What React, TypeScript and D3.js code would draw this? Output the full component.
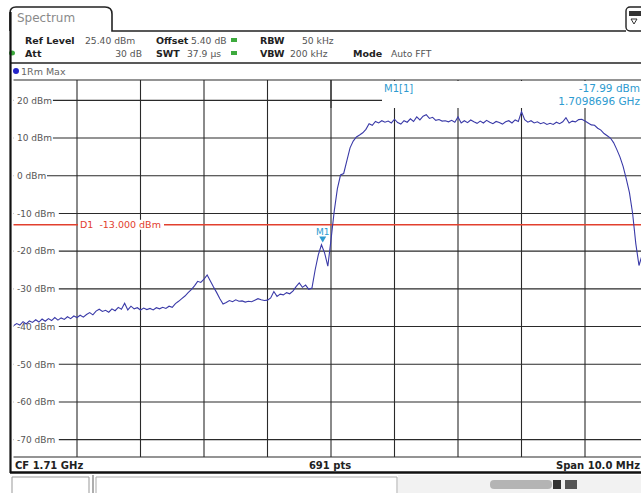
import React from "react";
import * as d3 from "d3";

// ---- data ----
const spanMHz = 10;
const stepMHz = 0.05; // trace sample step
const yTicks = [20, 10, 0, -10, -20, -30, -40, -50, -60, -70];
const xGrid = [1, 2, 3, 4, 5, 6, 7, 8, 9];
const refLevel = 25.4;
const bottomLevel = -74.6;
const d1Level = -13;
const markerFreqMHz = 4.8696;
const markerLevel = -17.99;

const traceLevels = [
  -39.8, -39.2, -39.6, -38.7, -39.3, -38.5, -38.9, -38.2, -38.8, -38.0,
  -38.6, -37.9, -38.4, -37.6, -38.3, -37.7, -38.1, -37.4, -37.9, -37.2,
  -37.6, -37.0, -37.5, -36.8, -36.3, -36.9, -35.9, -35.4, -36.0, -35.7,
  -36.2, -35.3, -35.8, -34.9, -35.4, -33.8, -35.6, -34.6, -35.3, -35.0,
  -35.6, -35.1, -35.5, -35.2, -35.6, -35.0, -35.3, -34.9, -35.2, -34.6,
  -34.9, -33.9, -33.3, -32.6, -31.9, -31.0, -30.2, -29.2, -28.0, -28.3,
  -27.4, -26.3, -27.9, -29.5, -31.0, -32.6, -34.0, -33.6, -33.1, -33.4,
  -32.9, -33.3, -33.2, -33.5, -33.3, -33.4, -33.0, -32.6, -32.9, -33.1,
  -33.0, -32.4, -30.7, -32.0, -31.4, -31.6, -31.0, -31.3, -30.6, -29.4,
  -28.4, -29.6, -29.0, -30.1, -29.8, -25.0, -21.0, -18.3, -20.5, -24.0,
  -17.0, -9.5, -3.5, 0.2, 0.6, 4.0, 7.4, 9.2, 10.3, 10.8,
  11.4, 12.3, 13.8, 13.4, 14.4, 14.0, 14.6, 14.2, 14.5, 14.0,
  15.0, 14.1, 13.7, 14.6, 14.2, 15.1, 14.4, 15.6, 14.8, 15.8,
  16.2, 15.2, 15.5, 14.7, 14.9, 14.5, 14.6, 14.3, 14.7, 14.2,
  15.6, 14.0, 14.6, 14.1, 14.8, 14.3, 13.9, 14.5, 14.0, 14.7,
  14.2, 13.8, 14.4, 14.1, 13.7, 14.3, 14.6, 14.0, 14.8, 14.4,
  17.0, 14.9, 14.2, 14.6, 14.0, 14.3, 13.8, 14.1, 13.6, 13.9,
  13.6, 14.2, 13.8, 14.3, 15.4, 14.0, 14.5, 14.3, 14.9, 15.0,
  14.5, 14.0, 13.5, 13.4, 12.6, 12.1, 11.2, 10.6, 10.0, 8.8,
  7.0, 5.0, 2.5, -0.8, -4.5, -10.0, -18.0, -23.8, -21.0, -16.0,
  -12.0,
];

const W = 641;
const H = 493;
const plot = { left: 13.5, right: 648.5, top: 80, bottom: 457 };

const FONT = "'DejaVu Sans', Verdana, sans-serif";
const TRACE = "#3a3aa8";
const MARK = "#2e9bd0";
const RED = "#e2402e";

export default function App() {
  const x = d3.scaleLinear().domain([0, spanMHz]).range([plot.left, plot.right]);
  const y = d3.scaleLinear().domain([bottomLevel, refLevel]).range([plot.bottom, plot.top]);
  const pts = traceLevels.map((v, i) => [i * stepMHz, v] as [number, number]);
  const line = d3
    .line<[number, number]>()
    .x((d) => x(d[0]))
    .y((d) => y(d[1]));

  const mx = x(markerFreqMHz);
  const my = y(markerLevel);
  const d1y = y(d1Level);

  const hdr = (t: string, px: number, py: number, bold = false, fill = "#222") => (
    <text
      x={px}
      y={py}
      fontFamily={FONT}
      fontSize={bold ? 9.5 : 9.2}
      fontWeight={bold ? "bold" : "normal"}
      fill={fill}
    >
      {t}
    </text>
  );

  return (
    <svg
      width={W}
      height={H}
      viewBox={`0 0 ${W} ${H}`}
      style={{ position: "fixed", left: 0, top: 0, background: "#fff" }}
    >
      <defs>
        <clipPath id="plotclip">
          <rect x={plot.left} y={plot.top} width={plot.right - plot.left} height={plot.bottom - plot.top} />
        </clipPath>
      </defs>
      <rect x={0} y={0} width={W} height={H} fill="#fff" />

      {/* tab */}
      <path
        d={`M10,31 L10,13 Q10,7 16,7 L105,7 Q112,7 112,14 L112,31 L626,31`}
        fill="none"
        stroke="#222"
        strokeWidth={1.6}
      />
      <text x={17} y={22} fontFamily={FONT} fontSize={12} fill="#8a8a8a">
        Spectrum
      </text>
      {/* top-right icon */}
      <rect x={626} y={7} width={22} height={24} rx={4} fill="#fff" stroke="#222" strokeWidth={1.4} />
      <rect x={629} y={11} width={12} height={5} fill="#333" />
      <path d="M631,19 L637,19 L634,24 Z" fill="none" stroke="#333" strokeWidth={1} />

      {/* header rows */}
      {hdr("Ref Level", 25, 44, true)}
      {hdr("25.40 dBm", 85, 44, false, "#555")}
      {hdr("Offset", 156, 44, true)}
      {hdr("5.40 dB", 191, 44, false, "#555")}
      <rect x={231} y={38} width={6} height={4} fill="#3daa3d" />
      {hdr("RBW", 260, 44, true)}
      {hdr("50 kHz", 302, 44, false, "#555")}

      <ellipse cx={12} cy={53} rx={3} ry={2.5} fill="#3daa3d" />
      {hdr("Att", 25, 57, true)}
      <text x={142} y={57} textAnchor="end" fontFamily={FONT} fontSize={9.2} fill="#555">
        30 dB
      </text>
      {hdr("SWT", 156, 57, true)}
      {hdr("37.9 µs", 187, 57, false, "#555")}
      <rect x={231} y={51} width={6} height={4} fill="#3daa3d" />
      {hdr("VBW", 260, 57, true)}
      {hdr("200 kHz", 290, 57, false, "#555")}
      {hdr("Mode", 353, 57, true)}
      {hdr("Auto FFT", 391, 57, false, "#555")}

      <line x1={10} x2={W} y1={63} y2={63} stroke="#222" strokeWidth={1.6} />
      <circle cx={16} cy={71} r={3} fill="#2424c8" />
      <text x={21} y={74.5} fontFamily={FONT} fontSize={9.5} fill="#666">
        1Rm Max
      </text>

      {/* grid */}
      {yTicks.map((t) => (
        <line key={"h" + t} x1={plot.left} x2={W} y1={y(t)} y2={y(t)} stroke="#2a2a2a" strokeWidth={1.1} />
      ))}
      {xGrid.map((f) => (
        <line key={"v" + f} x1={x(f)} x2={x(f)} y1={plot.top} y2={plot.bottom} stroke="#2a2a2a" strokeWidth={1.1} />
      ))}
      <line x1={plot.left} x2={W} y1={plot.top} y2={plot.top} stroke="#2a2a2a" strokeWidth={1.1} />
      <line x1={plot.left} x2={W} y1={plot.bottom} y2={plot.bottom} stroke="#2a2a2a" strokeWidth={1.1} />

      {/* marker info box covering grid */}
      <rect x={382} y={plot.top + 1} width={W - 382} height={27} fill="#fff" />
      <line x1={x(5)} x2={x(5)} y1={plot.top} y2={plot.top + 28} stroke="#2a2a2a" strokeWidth={1.1} />
      <text x={384} y={92} fontFamily={FONT} fontSize={10} fill={MARK}>
        M1[1]
      </text>
      <text x={640} y={92} textAnchor="end" fontFamily={FONT} fontSize={10.5} fill={MARK}>
        -17.99 dBm
      </text>
      <text x={640} y={104.5} textAnchor="end" fontFamily={FONT} fontSize={10.5} fill={MARK}>
        1.7098696 GHz
      </text>

      {/* y labels with white backing */}
      {yTicks.map((t) => {
        const lbl = `${t} dBm`;
        const w = lbl.length * 5.9 + 4;
        return (
          <g key={"l" + t}>
            <rect x={plot.left} y={y(t) - 5} width={w} height={10} fill="#fff" />
            <text x={17} y={y(t) + 3.3} fontFamily={FONT} fontSize={9} fill="#555">
              {lbl}
            </text>
          </g>
        );
      })}

      {/* D1 line */}
      <line x1={plot.left} x2={W} y1={d1y} y2={d1y} stroke={RED} strokeWidth={1.3} />
      <rect x={78} y={d1y - 5} width={86} height={10} fill="#fff" />
      <text x={80} y={d1y + 3.3} fontFamily={FONT} fontSize={9.5} fill={RED} style={{ whiteSpace: "pre" }}>
        {"D1  -13.000 dBm"}
      </text>

      {/* trace */}
      <g clipPath="url(#plotclip)">
        <path d={line(pts) || ""} fill="none" stroke={TRACE} strokeWidth={1.1} />
      </g>

      {/* marker */}
      <path d={`M${mx - 3.5},${my - 7} L${mx + 3.5},${my - 7} L${mx},${my - 1} Z`} fill={MARK} />
      <text x={mx} y={my - 9} textAnchor="middle" fontFamily={FONT} fontSize={9} fill={MARK}>
        M1
      </text>

      {/* bottom status */}
      <text x={15} y={469} fontFamily={FONT} fontSize={10} fontWeight="bold" fill="#222">
        CF 1.71 GHz
      </text>
      <text x={330} y={469} textAnchor="middle" fontFamily={FONT} fontSize={10} fontWeight="bold" fill="#222">
        691 pts
      </text>
      <text x={640} y={469} textAnchor="end" fontFamily={FONT} fontSize={10} fontWeight="bold" fill="#222">
        Span 10.0 MHz
      </text>

      {/* frame */}
      <line x1={10.5} x2={10.5} y1={12} y2={473} stroke="#111" strokeWidth={2.2} />
      <line x1={10} x2={W} y1={472.5} y2={472.5} stroke="#111" strokeWidth={2.5} />

      {/* lower status bar */}
      <path d="M12,493 L12,477 L89,477 L89,493" fill="none" stroke="#999" strokeWidth={1} />
      <line x1={93} x2={93} y1={475} y2={493} stroke="#777" strokeWidth={1.2} />
      <path d="M96,493 L96,477 L397,477 L397,493" fill="none" stroke="#aaa" strokeWidth={1} />
      <rect x={398} y={475} width={243} height={18} fill="#f2f2f2" />
      <rect x={490} y={480} width={62} height={9} rx={4} fill="#9a9a9a" opacity={0.7} />
      <rect x={553} y={480} width={8} height={9} fill="#333" />
      <rect x={565} y={480} width={12} height={9} fill="#555" />
    </svg>
  );
}
